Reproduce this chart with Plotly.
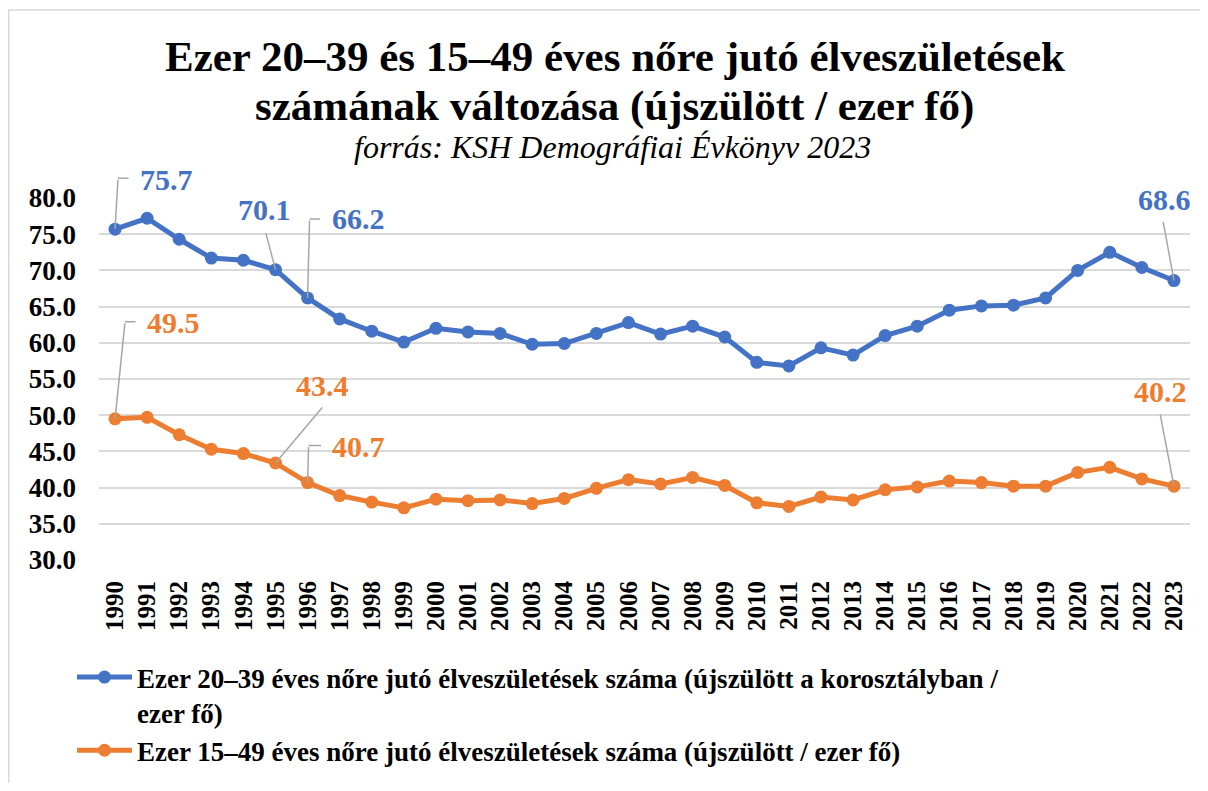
import plotly.graph_objects as go

years = list(range(1990, 2024))
blue_values = [75.7, 77.2, 74.3, 71.7, 71.4, 70.1, 66.2, 63.3, 61.6, 60.1,
               62.0, 61.5, 61.3, 59.8, 59.9, 61.3, 62.8, 61.2, 62.3, 60.8,
               57.3, 56.8, 59.3, 58.3, 61.0, 62.3, 64.5, 65.1, 65.2, 66.2,
               70.0, 72.5, 70.4, 68.6]
orange_values = [49.5, 49.7, 47.3, 45.3, 44.7, 43.4, 40.7, 38.9, 38.0, 37.2,
                 38.4, 38.2, 38.3, 37.8, 38.5, 39.9, 41.1, 40.5, 41.4, 40.3,
                 37.9, 37.4, 38.7, 38.3, 39.7, 40.1, 40.9, 40.7, 40.2, 40.2,
                 42.1, 42.8, 41.2, 40.2]
blue_name = "Ezer 20–39 éves nőre jutó élveszületések száma (újszülött a korosztályban /<br>ezer fő)"
orange_name = "Ezer 15–49 éves nőre jutó élveszületések száma (újszülött / ezer fő)"
title_line1 = "Ezer 20–39 és 15–49 éves nőre jutó élveszületések"
title_line2 = "számának változása (újszülött / ezer fő)"
subtitle_text = "forrás: KSH Demográfiai Évkönyv 2023"
y_ticks = [30, 35, 40, 45, 50, 55, 60, 65, 70, 75, 80]

# labelled points
blue_label_years = [1990, 1995, 1996, 2023]
orange_label_years = [1990, 1995, 1996, 2023]

BLUE = "#4472C4"
ORANGE = "#ED7D31"
LEADER = "#A6A6A6"
FONT = "Liberation Serif, Times New Roman, serif"

# page body margin offset (px) and plot-area geometry in screen pixels
OFF = 8
PL, PT, PR, PB = 99, 198, 1190, 560
PW, PH = PR - PL, PB - PT
FIG_W, FIG_H = 1208 - 2 * OFF, 791 - 2 * OFF


def px_x(px):
    return (px - PL) / PW


def px_y(py):
    return (PB - py) / PH


# label styling: text offset (px) and leader path (px, screen y down)
label_style = {
    ("b", 1990): dict(dx=51, dy=-50, path=[(0, 0), (3, -51), (15, -51)]),
    ("b", 1995): dict(dx=-11, dy=-60, path=[(0, 0), (-10, -38)]),
    ("b", 1996): dict(dx=51, dy=-79, path=[(0, 0), (2, -79), (14, -79)]),
    ("b", 2023): dict(dx=-9, dy=-81, path=[(0, 0), (-11, -60)]),
    ("o", 1990): dict(dx=58, dy=-96, path=[(0, 0), (10, -97), (22, -97)]),
    ("o", 1995): dict(dx=47, dy=-77, path=[(0, 0), (48, -57)]),
    ("o", 1996): dict(dx=51, dy=-36, path=[(0, 0), (1, -37), (15, -37)]),
    ("o", 2023): dict(dx=-13, dy=-95, path=[(0, 0), (-14, -73)]),
}

fig = go.Figure()
fig.add_trace(go.Scatter(x=years, y=blue_values, name=f"<b>{blue_name}</b>", mode="lines+markers",
                         line=dict(color=BLUE, width=5), marker=dict(size=13, color=BLUE)))
fig.add_trace(go.Scatter(x=years, y=orange_values, name=f"<b>{orange_name}</b>", mode="lines+markers",
                         line=dict(color=ORANGE, width=5), marker=dict(size=13, color=ORANGE)))

leader_annotations = []
label_annotations = []
for key, yrs, vals, col in (("b", blue_label_years, blue_values, BLUE),
                             ("o", orange_label_years, orange_values, ORANGE)):
    for yr in yrs:
        v = vals[years.index(yr)]
        st = label_style[(key, yr)]
        label_annotations.append(dict(x=yr, y=v, xref="x", yref="y", text=f"<b>{v:.1f}</b>",
                                      showarrow=False, xshift=st["dx"], yshift=-st["dy"],
                                      font=dict(family=FONT, size=30, color=col)))
        pts = st["path"]
        for (x0, y0), (x1, y1) in zip(pts[:-1], pts[1:]):
            leader_annotations.append(dict(
                x=yr, y=v, xref="x", yref="y", text="", showarrow=True,
                xshift=x0, yshift=-y0, ax=x1 - x0, ay=y1 - y0, axref="pixel", ayref="pixel",
                arrowhead=0, arrowwidth=1.5, arrowcolor=LEADER, standoff=0, startstandoff=0))

annotations = leader_annotations + label_annotations

# title lines and subtitle
for txt, cx, cy, size in ((f"<b>{title_line1}</b>", 615, 56, 43),
                          (f"<b>{title_line2}</b>", 614, 106, 43),
                          (f"<i>{subtitle_text}</i>", 612, 147, 32)):
    annotations.append(dict(x=px_x(cx), y=px_y(cy), xref="paper", yref="paper",
                            text=txt, showarrow=False, xanchor="center", yanchor="middle",
                            font=dict(family=FONT, size=size, color="black")))

# chart area border
shapes = [dict(type="rect", xref="paper", yref="paper",
               x0=px_x(OFF + 0.75), x1=px_x(1300), y0=px_y(900), y1=px_y(10),
               line=dict(color="#D9D9D9", width=1.5), layer="below")]

fig.update_layout(
    width=FIG_W, height=FIG_H,
    margin=dict(l=PL - OFF, r=FIG_W - (PR - OFF), t=PT - OFF, b=FIG_H - (PB - OFF), autoexpand=False),
    paper_bgcolor="white", plot_bgcolor="white",
    font=dict(family=FONT, color="black"),
    xaxis=dict(range=[1989.5, 2023.5], tickmode="array", tickvals=years,
               ticktext=[f"<b>{y}</b>" for y in years], tickangle=-90,
               tickfont=dict(family=FONT, size=25, color="black"),
               showgrid=False, zeroline=False, showline=False, ticks="",
               ticklabelstandoff=15),
    yaxis=dict(range=[30, 80], tickmode="array", tickvals=y_ticks,
               ticktext=[f"<b>{v:.1f}</b>" for v in y_ticks],
               tickfont=dict(family=FONT, size=27, color="black"),
               showgrid=True, gridcolor="#D9D9D9", gridwidth=1.5,
               zeroline=False, showline=False, ticks="", ticklabelstandoff=22),
    legend=dict(orientation="v", x=px_x(72), xanchor="left", y=px_y(653), yanchor="top",
                font=dict(family=FONT, size=27, color="black"), valign="top",
                tracegroupgap=35, itemwidth=55, bgcolor="rgba(0,0,0,0)"),
    annotations=annotations,
    shapes=shapes,
    showlegend=True,
)

fig.write_html("out.html", config={"displayModeBar": False})
